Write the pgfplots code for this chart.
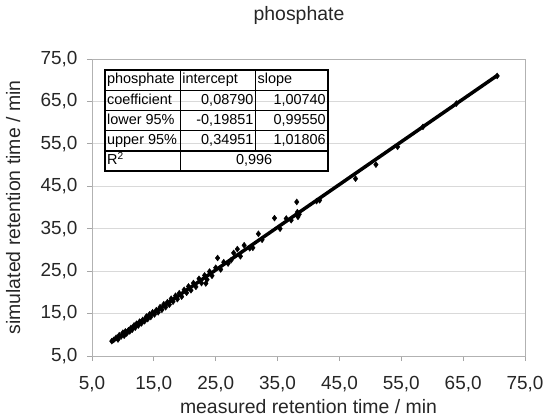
\documentclass[border=0pt]{standalone}
\usepackage{pgfplots}
\pgfplotsset{compat=1.18}
\usepackage{fontspec}
\usepackage{array}
\setmainfont{Liberation Sans}

% measured vs simulated retention time (min)
\pgfplotstableread{
x y
8.2 8.5
8.5 8.8
8.9 9.3
9.2 8.9
9.4 9.9
9.7 9.6
10.0 10.5
10.2 9.8
10.4 10.8
10.6 10.3
10.9 11.1
11.1 10.8
11.3 11.6
11.5 11.2
11.8 12.2
12.0 11.7
12.2 12.6
12.5 12.2
12.7 13.1
13.0 12.7
13.2 13.5
13.5 13.2
13.8 14.3
14.0 13.7
14.3 14.8
14.5 14.2
14.8 15.3
15.1 14.8
15.4 15.8
15.7 15.3
16.0 16.5
16.3 15.9
16.6 17.2
16.9 16.5
17.2 17.7
17.5 17.1
17.8 18.5
18.1 17.8
18.5 19.2
18.8 18.4
19.1 19.8
19.5 19.0
19.9 20.6
20.3 19.9
20.6 21.4
21.0 20.5
21.4 22.2
21.8 21.3
22.3 23.2
22.7 22.2
23.2 24.0
23.4 22.1
23.6 23.0
24.0 24.9
24.4 23.9
25.0 25.8
25.3 28.1
25.8 25.4
26.3 27.1
27.0 26.8
27.5 27.6
27.9 29.3
28.5 30.2
29.0 28.5
29.6 31.1
30.5 30.4
31.0 30.5
31.9 33.8
32.5 32.4
34.5 37.5
35.4 35.0
36.4 37.4
37.2 37.0
38.1 41.3
38.2 38.9
38.3 37.8
38.5 38.4
41.3 41.5
41.8 41.7
47.6 46.8
50.9 50.1
54.4 54.3
58.5 59.0
63.9 64.5
70.5 71.0
}\datatable

\begin{document}
\begin{tikzpicture}
\begin{axis}[
    scale only axis,
    width=433bp, height=297bp,
    xmin=5, xmax=75, ymin=5, ymax=75,
    xtick={5,15,...,75}, ytick={5,15,...,75},
    xtick pos=bottom, ytick pos=left,
    tick align=outside,
    major tick length=5bp,
    tick style={gray!70, line width=0.8bp},
    axis line style={gray!60, line width=0.8bp},
    ymajorgrids=true,
    grid style={gray!30, line width=0.8bp},
    xticklabel={\pgfmathprintnumber[fixed,fixed zerofill,precision=1,use comma,assume math mode=true]{\tick}},
    yticklabel={\pgfmathprintnumber[fixed,fixed zerofill,precision=1,use comma,assume math mode=true]{\tick}},
    ticklabel style={font=\fontsize{19}{21}\selectfont, text=black!85},
    xticklabel style={anchor=base, yshift=-28bp},
    yticklabel style={xshift=-6bp},
    xlabel={measured retention time / min},
    ylabel={simulated retention time / min},
    label style={font=\fontsize{19.5}{21}\selectfont, text=black!85},
    xlabel style={at={(axis description cs:0.5,-0.192)}, anchor=base},
    ylabel style={at={(axis description cs:-0.166,0.5)}, anchor=base},
    title={phosphate},
    title style={font=\fontsize{19.5}{21}\selectfont, text=black!85, at={(axis description cs:0.478,1.108)}, anchor=base},
]
\addplot[black, line width=3.5bp, no marks] coordinates {(8.2,8.35) (70.6,71.21)};
\addplot[only marks, mark=diamond*, mark size=3bp, black] table[x=x, y=y] {\datatable};
\node[anchor=north west, inner sep=0pt] at (rel axis cs:0.028,0.966) {%
  \fontsize{14.5}{19}\selectfont\setlength{\arrayrulewidth}{1.3bp}\setlength{\tabcolsep}{1.5bp}%
  \begin{tabular}{|p{71bp}|>{\raggedleft\arraybackslash}p{71bp}|>{\raggedleft\arraybackslash}p{68bp}|}
  \hline
  phosphate & \multicolumn{1}{p{71bp}|}{intercept} & \multicolumn{1}{p{68bp}|}{slope}\\ \hline
  coefficient & 0,08790 & 1,00740\\ \hline
  lower 95\% & -0,19851 & 0,99550\\ \hline
  \mbox{upper 95\%} & 0,34951 & 1,01806\\ \hline
  R\textsuperscript{2} & \multicolumn{2}{c|}{0,996}\\ \hline
  \end{tabular}};
\end{axis}
\pgfresetboundingbox
\path ([shift={(-92bp,-63bp)}]current axis.south west) rectangle ([shift={(23bp,59bp)}]current axis.north east);
\end{tikzpicture}
\end{document}
